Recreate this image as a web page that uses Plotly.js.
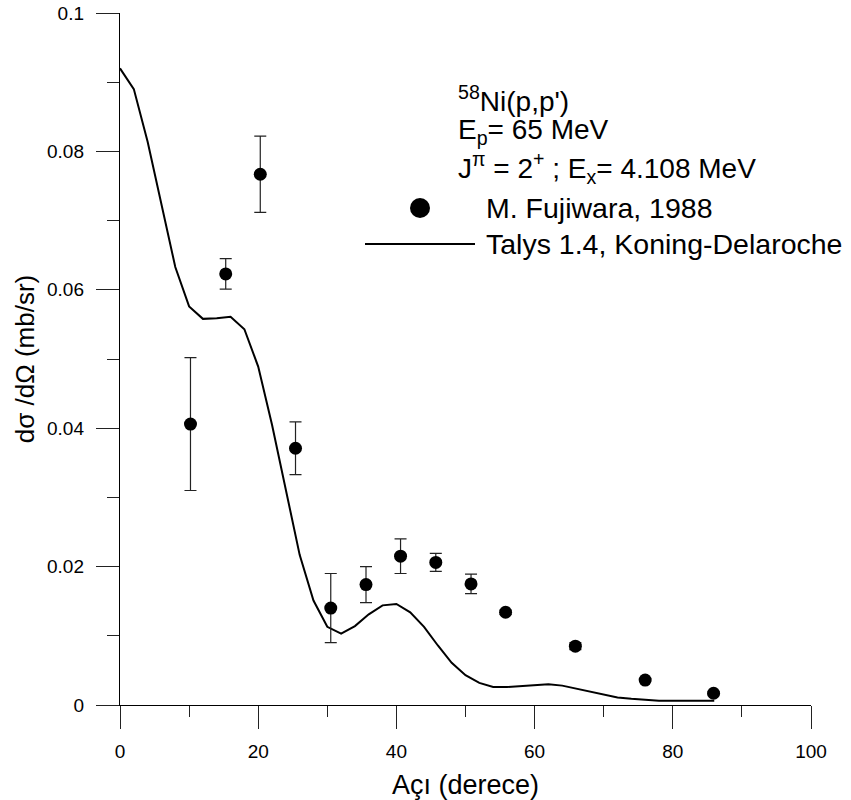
<!DOCTYPE html>
<html>
<head>
<meta charset="utf-8">
<script src="https://cdn.plot.ly/plotly-3.0.1.min.js"></script>
<style>html,body{margin:0;padding:0;background:#fff;}</style>
</head>
<body>
<div id="chart" style="width:851px;height:800px;"></div>
<script>
// Experimental data: M. Fujiwara, 1988
const expAngles = [10.2, 15.3, 20.3, 25.4, 30.5, 35.6, 40.6, 45.7, 50.8, 55.8, 65.9, 76.0, 85.9];
const expValues = [0.0406, 0.0623, 0.0767, 0.0371, 0.0140, 0.0174, 0.0215, 0.0206, 0.0175, 0.0134, 0.0085, 0.0036, 0.0017];
const expErrors = [0.0096, 0.0022, 0.0055, 0.0038, 0.0050, 0.0026, 0.0025, 0.0013, 0.0014, 0.0003, 0.0005, 0.0002, 0.0002];

// Talys 1.4, Koning-Delaroche
const thAngles = [0, 2, 4, 6, 8, 10, 12, 14, 16, 18, 20, 22, 24, 26, 28, 30, 32, 34, 36, 38, 40, 42,
                  44, 46, 48, 50, 52, 54, 56, 58, 60, 62, 64, 66, 68, 70, 72, 74, 76, 78, 80, 82, 84, 86];
const thValues = [0.0920, 0.0890, 0.0814, 0.0721, 0.0633, 0.0576, 0.0558, 0.0559, 0.0561, 0.0543, 0.0489,
                  0.0405, 0.0310, 0.0217, 0.0151, 0.0113, 0.0103, 0.0114, 0.0131, 0.0144, 0.0146, 0.0134,
                  0.0113, 0.0086, 0.0061, 0.0043, 0.0032, 0.0026, 0.0026, 0.0027, 0.0029, 0.0030, 0.0028,
                  0.0024, 0.0019, 0.0015, 0.0011, 0.0009, 0.0007, 0.0006, 0.0006, 0.0006, 0.0006, 0.0006];

const xTickVals = [0, 20, 40, 60, 80, 100];
const xTickText = ['0', '20', '40', '60', '80', '100'];
const yTickVals = [0, 0.02, 0.04, 0.06, 0.08, 0.1];
const yTickText = ['0', '0.02', '0.04', '0.06', '0.08', '0.1'];

const infoLines = ["<sup>58</sup>Ni(p,p')", "E<sub>p</sub>= 65 MeV", "J<sup>π</sup> = 2<sup>+</sup> ; E<sub>x</sub>= 4.108 MeV"];
const legendLabels = ["M. Fujiwara, 1988", "Talys 1.4, Koning-Delaroche"];

const FONT = 'Arial, "Liberation Sans", sans-serif';

const W = 851, H = 800;
const M = {l: 120, r: 40, t: 13, b: 95};
const pw = W - M.l - M.r, ph = H - M.t - M.b;
const px = x => (x - M.l) / pw;
const py = y => (H - M.b - y) / ph;

const traces = [
  {
    x: thAngles, y: thValues, type: 'scatter', mode: 'lines',
    line: {color: '#000', width: 2}, showlegend: false, hoverinfo: 'skip'
  },
  {
    x: expAngles, y: expValues, type: 'scatter', mode: 'markers',
    marker: {color: '#000', size: 13, symbol: 'circle'},
    error_y: {type: 'data', array: expErrors, visible: true, color: '#222', thickness: 1.2, width: 6},
    showlegend: false
  }
];

const annotations = [];
const infoY = [99, 132, 168];
infoLines.forEach((t, i) => {
  annotations.push({
    xref: 'paper', yref: 'paper', x: px(456), y: py(infoY[i]),
    xanchor: 'left', yanchor: 'middle', showarrow: false, text: t,
    font: {family: FONT, size: 28, color: '#000'}
  });
});
const legY = [208, 244];
legendLabels.forEach((t, i) => {
  annotations.push({
    xref: 'paper', yref: 'paper', x: px(484), y: py(legY[i]),
    xanchor: 'left', yanchor: 'middle', showarrow: false, text: t,
    font: {family: FONT, size: 28.5, color: '#000'}
  });
});

const shapes = [
  {type: 'circle', xref: 'paper', yref: 'paper', xsizemode: 'pixel', ysizemode: 'pixel',
   xanchor: px(420), yanchor: py(208), x0: -10, x1: 10, y0: -10, y1: 10,
   fillcolor: '#000', line: {width: 0}},
  {type: 'line', xref: 'paper', yref: 'paper', x0: px(365), x1: px(475), y0: py(244), y1: py(244),
   line: {color: '#000', width: 2}}
];

const layout = {
  width: W, height: H,
  margin: M,
  paper_bgcolor: '#fff', plot_bgcolor: '#fff',
  showlegend: false,
  font: {family: FONT, color: '#000'},
  xaxis: {
    range: [0, 100], tickvals: xTickVals, ticktext: xTickText,
    ticks: 'outside', ticklen: 23, tickwidth: 1, tickcolor: '#222', ticklabelstandoff: 6,
    minor: {dtick: 10, tick0: 0, ticks: 'outside', ticklen: 11, tickwidth: 1, tickcolor: '#222', showgrid: false},
    showline: true, linecolor: '#000', linewidth: 1.2, showgrid: false, zeroline: false,
    tickfont: {family: FONT, size: 19, color: '#000'},
    title: {text: 'Açı (derece)', font: {family: FONT, size: 27, color: '#000'}, standoff: 14}
  },
  yaxis: {
    range: [0, 0.1], tickvals: yTickVals, ticktext: yTickText,
    ticks: 'outside', ticklen: 23, tickwidth: 1, tickcolor: '#222', ticklabelstandoff: 8,
    minor: {dtick: 0.01, tick0: 0, ticks: 'outside', ticklen: 12, tickwidth: 1, tickcolor: '#222', showgrid: false},
    showline: true, linecolor: '#000', linewidth: 1.2, showgrid: false, zeroline: false,
    tickfont: {family: FONT, size: 19, color: '#000'},
    title: {text: 'dσ /dΩ (mb/sr)', font: {family: FONT, size: 26, color: '#000'}, standoff: 5}
  },
  annotations: annotations,
  shapes: shapes
};

Plotly.newPlot('chart', traces, layout, {displayModeBar: false, staticPlot: true});
</script>
</body>
</html>
